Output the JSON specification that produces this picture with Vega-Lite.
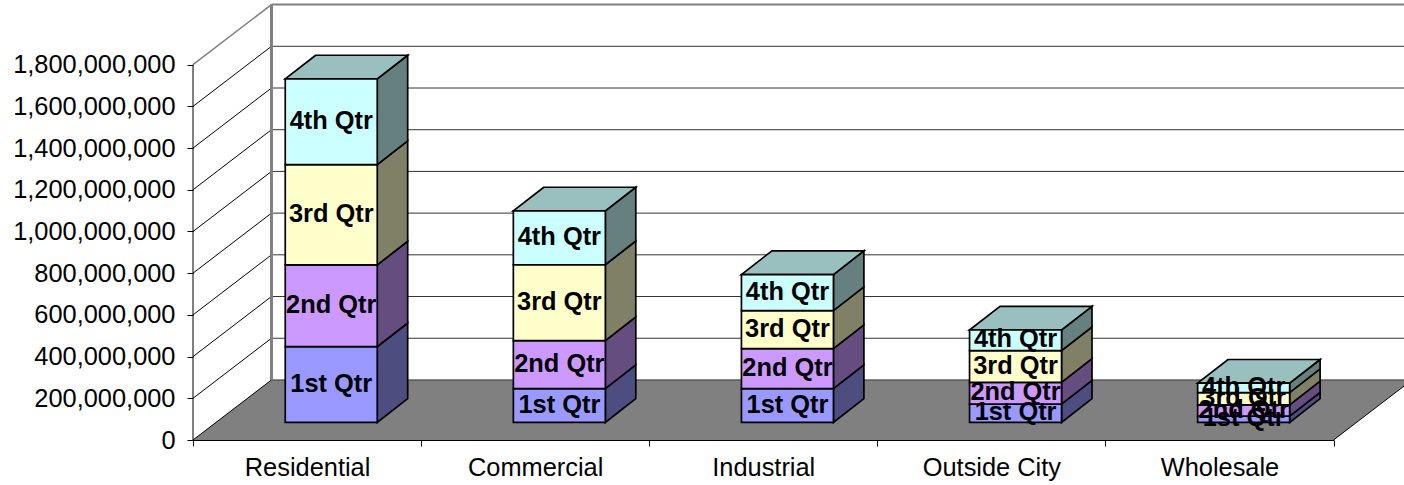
{
"$schema":"https://vega.github.io/schema/vega-lite/v6.json",
"width":1211,"height":440,
"autosize":{"type":"none"},
"padding":{"left":193,"top":0,"right":0,"bottom":45},
"background":"white",
"config":{"view":{"stroke":null},"font":"Liberation Sans"},
"datasets":{
"ticks":[{"tick":0},{"tick":200000000},{"tick":400000000},{"tick":600000000},{"tick":800000000},{"tick":1000000000},{"tick":1200000000},{"tick":1400000000},{"tick":1600000000},{"tick":1800000000}],
"sales":[
{"category":"Residential","quarter":"1st Qtr","value":363000000},
{"category":"Residential","quarter":"2nd Qtr","value":392000000},
{"category":"Residential","quarter":"3rd Qtr","value":481000000},
{"category":"Residential","quarter":"4th Qtr","value":411000000},
{"category":"Commercial","quarter":"1st Qtr","value":162000000},
{"category":"Commercial","quarter":"2nd Qtr","value":230000000},
{"category":"Commercial","quarter":"3rd Qtr","value":364000000},
{"category":"Commercial","quarter":"4th Qtr","value":258000000},
{"category":"Industrial","quarter":"1st Qtr","value":162000000},
{"category":"Industrial","quarter":"2nd Qtr","value":192000000},
{"category":"Industrial","quarter":"3rd Qtr","value":182000000},
{"category":"Industrial","quarter":"4th Qtr","value":173000000},
{"category":"Outside City","quarter":"1st Qtr","value":88000000},
{"category":"Outside City","quarter":"2nd Qtr","value":104000000},
{"category":"Outside City","quarter":"3rd Qtr","value":152000000},
{"category":"Outside City","quarter":"4th Qtr","value":99000000},
{"category":"Wholesale","quarter":"1st Qtr","value":30000000},
{"category":"Wholesale","quarter":"2nd Qtr","value":54000000},
{"category":"Wholesale","quarter":"3rd Qtr","value":59000000},
{"category":"Wholesale","quarter":"4th Qtr","value":45000000}
]},
"resolve":{"scale":{"x":"independent","color":"independent"},"axis":{"x":"independent"}},
"layer":[
{"data":{"values":[{"k":0},{"k":1}]},
 "transform":[{"calculate":"datum.k*0.344","as":"a"},{"calculate":"5+datum.k*0.344","as":"b"},{"calculate":"datum.k*288000000","as":"h"}],
 "mark":{"type":"area","orient":"horizontal","fill":"#808080","stroke":null},
 "encoding":{"y":{"field":"h","type":"quantitative","scale":{"domain":[0,2110000000],"nice":false},"title":null,
   "axis":{"values":[0,200000000,400000000,600000000,800000000,1000000000,1200000000,1400000000,1600000000,1800000000],"labelExpr":"format(datum.value,',')","title":null,"domain":false,"grid":false,"tickColor":"black","tickSize":6,"labelFontSize":25.4,"labelColor":"black","labelPadding":12,"zindex":1,"labelBaseline":"middle"}},
  "x":{"field":"a","type":"quantitative","scale":{"domain":[0,5.309],"nice":false,"zero":false},"axis":null},"x2":{"field":"b"}}},
{"data":{"name":"ticks"},
 "transform":[{"filter":"datum.tick<1800000000"},{"calculate":"datum.tick+288000000","as":"back"},{"calculate":"0.344","as":"a"},{"calculate":"5.344","as":"b"}],
 "mark":{"type":"rule","stroke":"#333333","strokeWidth":1},
 "encoding":{"y":{"field":"back","type":"quantitative","scale":{"domain":[0,2110000000],"nice":false},"title":null},
  "x":{"field":"a","type":"quantitative","scale":{"domain":[0,5.309],"nice":false,"zero":false},"axis":null},"x2":{"field":"b"}}},
{"data":{"name":"ticks"},
 "transform":[{"filter":"datum.tick<1800000000"},{"calculate":"datum.tick+288000000","as":"back"},{"calculate":"0","as":"a"},{"calculate":"0.344","as":"b"}],
 "mark":{"type":"rule","stroke":"black","strokeWidth":1},
 "encoding":{"y":{"field":"tick","type":"quantitative","scale":{"domain":[0,2110000000],"nice":false},"title":null},"y2":{"field":"back"},
  "x":{"field":"a","type":"quantitative","scale":{"domain":[0,5.309],"nice":false,"zero":false},"axis":null},"x2":{"field":"b"}}},
{"data":{"name":"ticks"},
 "transform":[{"filter":"datum.tick==1800000000"},{"calculate":"datum.tick+288000000","as":"back"},{"calculate":"0","as":"a"},{"calculate":"0.344","as":"b"}],
 "mark":{"type":"rule","stroke":"#808080","strokeWidth":1.5},
 "encoding":{"y":{"field":"tick","type":"quantitative","scale":{"domain":[0,2110000000],"nice":false},"title":null},"y2":{"field":"back"},
  "x":{"field":"a","type":"quantitative","scale":{"domain":[0,5.309],"nice":false,"zero":false},"axis":null},"x2":{"field":"b"}}},
{"data":{"name":"ticks"},
 "transform":[{"filter":"datum.tick==1800000000"},{"calculate":"datum.tick+288000000","as":"back"},{"calculate":"0.344","as":"a"},{"calculate":"5.344","as":"b"}],
 "mark":{"type":"rule","stroke":"#808080","strokeWidth":2},
 "encoding":{"y":{"field":"back","type":"quantitative","scale":{"domain":[0,2110000000],"nice":false},"title":null},
  "x":{"field":"a","type":"quantitative","scale":{"domain":[0,5.309],"nice":false,"zero":false},"axis":null},"x2":{"field":"b"}}},
{"data":{"name":"ticks"},
 "transform":[{"filter":"datum.tick==1800000000"},{"calculate":"datum.tick+288000000","as":"back"},{"calculate":"288000000","as":"low"},{"calculate":"0.344","as":"a"}],
 "mark":{"type":"rule","stroke":"#808080","strokeWidth":3},
 "encoding":{"y":{"field":"back","type":"quantitative","scale":{"domain":[0,2110000000],"nice":false},"title":null},"y2":{"field":"low"},
  "x":{"field":"a","type":"quantitative","scale":{"domain":[0,5.309],"nice":false,"zero":false},"axis":null}}},
{"data":{"name":"ticks"},
 "transform":[{"filter":"datum.tick==1800000000"},{"calculate":"0","as":"low"},{"calculate":"0","as":"a"}],
 "mark":{"type":"rule","stroke":"black","strokeWidth":1},
 "encoding":{"y":{"field":"tick","type":"quantitative","scale":{"domain":[0,2110000000],"nice":false},"title":null},"y2":{"field":"low"},
  "x":{"field":"a","type":"quantitative","scale":{"domain":[0,5.309],"nice":false,"zero":false},"axis":null}}},
{"data":{"name":"ticks"},
 "transform":[{"filter":"datum.tick==0"},{"calculate":"288000000","as":"back"},{"calculate":"5","as":"a"},{"calculate":"5.344","as":"b"}],
 "mark":{"type":"rule","stroke":"black","strokeWidth":1},
 "encoding":{"y":{"field":"tick","type":"quantitative","scale":{"domain":[0,2110000000],"nice":false},"title":null},"y2":{"field":"back"},
  "x":{"field":"a","type":"quantitative","scale":{"domain":[0,5.309],"nice":false,"zero":false},"axis":null},"x2":{"field":"b"}}},
{"data":{"name":"sales"},
 "transform":[
  {"stack":"value","groupby":["category"],"sort":[{"field":"quarter"}],"as":["v0","v1"]},
  {"calculate":"indexof(['Residential','Commercial','Industrial','Outside City','Wholesale'],datum.category)","as":"idx"},
  {"calculate":"[0,1]","as":"k"},{"flatten":["k"]},
  {"calculate":"datum.idx+0.8075+datum.k*0.1337","as":"sx"},
  {"calculate":"datum.v0+84400000+datum.k*113700000","as":"lo"},
  {"calculate":"datum.v1+84400000+datum.k*113700000","as":"hi"}],
 "mark":{"type":"area","stroke":"black","strokeWidth":1.7,"strokeJoin":"miter"},
 "encoding":{"x":{"field":"sx","type":"quantitative","scale":{"domain":[0,5.309],"nice":false,"zero":false},"axis":null},
  "y":{"field":"hi","type":"quantitative","scale":{"domain":[0,2110000000],"nice":false},"title":null},"y2":{"field":"lo"},
  "detail":[{"field":"category"},{"field":"quarter"}],
  "color":{"field":"quarter","type":"nominal","legend":null,"scale":{"domain":["1st Qtr","2nd Qtr","3rd Qtr","4th Qtr"],"range":["#4D4D80","#664D80","#808066","#668080"]}}}},
{"data":{"name":"sales"},
 "transform":[
  {"stack":"value","groupby":["category"],"sort":[{"field":"quarter"}],"as":["v0","v1"]},
  {"filter":"datum.quarter=='4th Qtr'"},
  {"calculate":"indexof(['Residential','Commercial','Industrial','Outside City','Wholesale'],datum.category)","as":"idx"},
  {"calculate":"[0,1]","as":"k"},{"flatten":["k"]},
  {"calculate":"datum.idx+0.4042+datum.k*0.1337","as":"tl"},
  {"calculate":"datum.idx+0.8075+datum.k*0.1337","as":"tr"},
  {"calculate":"datum.v1+84400000+datum.k*113700000","as":"hi"}],
 "mark":{"type":"area","orient":"horizontal","fill":"#99BFBF","stroke":"black","strokeWidth":1.7,"strokeJoin":"miter"},
 "encoding":{"x":{"field":"tl","type":"quantitative","scale":{"domain":[0,5.309],"nice":false,"zero":false},"axis":null},"x2":{"field":"tr"},
  "y":{"field":"hi","type":"quantitative","scale":{"domain":[0,2110000000],"nice":false},"title":null},
  "detail":{"field":"category"}}},
{"data":{"name":"sales"},
 "transform":[{"stack":"value","groupby":["category"],"sort":[{"field":"quarter"}],"as":["v0","v1"]}],
 "mark":{"type":"bar","width":92,"xOffset":24.2,"yOffset":-17.6,"y2Offset":-17.6,"stroke":"black","strokeWidth":1.7},
 "encoding":{"x":{"field":"category","type":"nominal","sort":["Residential","Commercial","Industrial","Outside City","Wholesale"],
   "scale":{"range":[0,1140.5],"paddingInner":0,"paddingOuter":0},
   "axis":{"title":null,"labelAngle":0,"tickBand":"extent","tickSize":6,"tickColor":"black","domainColor":"black","labelFontSize":25.4,"labelColor":"black","labelPadding":9,"zindex":1,"grid":false}},
  "y":{"field":"v1","type":"quantitative","scale":{"domain":[0,2110000000],"nice":false},"title":null},"y2":{"field":"v0"},
  "color":{"field":"quarter","type":"nominal","legend":null,"scale":{"domain":["1st Qtr","2nd Qtr","3rd Qtr","4th Qtr"],"range":["#9999FF","#CC99FF","#FFFFCC","#CCFFFF"]}}}},
{"data":{"name":"sales"},
 "transform":[{"stack":"value","groupby":["category"],"sort":[{"field":"quarter"}],"as":["v0","v1"]},{"calculate":"(datum.v0+datum.v1)/2","as":"mid"}],
 "mark":{"type":"text","xOffset":24.2,"yOffset":-18.5,"font":"Liberation Sans","fontWeight":"bold","fontSize":25.4,"baseline":"middle","align":"center","color":"black"},
 "encoding":{"x":{"field":"category","type":"nominal","sort":["Residential","Commercial","Industrial","Outside City","Wholesale"],
   "scale":{"range":[0,1140.5],"paddingInner":0,"paddingOuter":0},"axis":null},
  "y":{"field":"mid","type":"quantitative","scale":{"domain":[0,2110000000],"nice":false},"title":null},
  "text":{"field":"quarter","type":"nominal"}}}
]}
